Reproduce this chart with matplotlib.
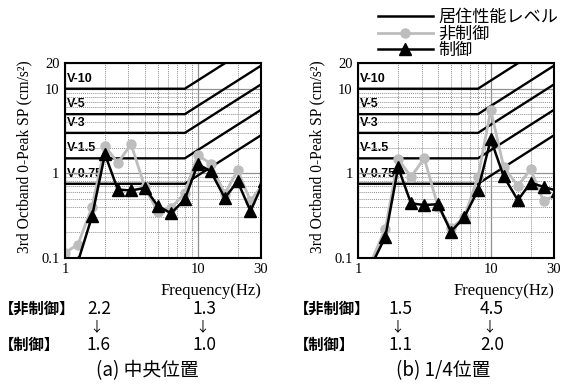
import matplotlib
matplotlib.use("Agg")
import matplotlib.pyplot as plt
from matplotlib.lines import Line2D
from matplotlib.ticker import FixedLocator, NullFormatter

# 1/3 octave band centre frequencies (Hz)
freq = [1, 1.25, 1.6, 2, 2.5, 3.15, 4, 5, 6.3, 8, 10, 12.5, 16, 20, 25, 31.5]

# (a) centre position
center_uncontrolled = [0.115, 0.143, 0.40, 2.1, 1.33, 2.2, 0.68, 0.35, 0.39, 0.58,
                       1.64, 1.30, 0.57, 1.08, 0.47, 0.77]
center_controlled = [0.05, 0.089, 0.31, 1.68, 0.64, 0.625, 0.67, 0.41, 0.335, 0.49,
                     1.28, 1.06, 0.51, 0.80, 0.355, 0.81]

# (b) quarter position
quarter_uncontrolled = [0.07, 0.09, 0.22, 1.47, 0.91, 1.50, 0.40, 0.223, 0.30, 0.90,
                        5.6, 1.19, 0.71, 1.11, 0.47, 0.56]
quarter_controlled = [0.04, 0.08, 0.177, 1.17, 0.44, 0.42, 0.43, 0.203, 0.30, 0.63,
                      2.52, 0.92, 0.48, 0.77, 0.69, 0.62]

# habitability criteria curves: flat up to the knee, then proportional to f
criteria_names = ["V-10", "V-5", "V-3", "V-1.5", "V-0.75"]
criteria_levels = [10, 5, 3, 1.5, 0.75]
criteria_freq = [1, 8, 40]
criteria_shape = [1, 1, 5]

summary_a = {"非制御": ["2.2", "1.3"], "制御": ["1.6", "1.0"]}
summary_b = {"非制御": ["1.5", "4.5"], "制御": ["1.1", "2.0"]}
captions = ["(a) 中央位置", "(b) 1/4位置"]
legend_labels = ["居住性能レベル", "非制御", "制御"]

GRAY = "#bdbdbd"
SERIF = "Liberation Serif"
CJK = ["Noto Sans CJK JP", "DejaVu Sans"]

W, H = 566, 385


def px(x, y):
    return x / W, 1 - y / H


fig = plt.figure(figsize=(W / 100, H / 100), dpi=100)

ax_a = fig.add_axes([65 / W, 1 - 257.7 / H, 196 / W, 194.4 / H])
ax_b = fig.add_axes([358.3 / W, 1 - 257.7 / H, 195.7 / W, 194.4 / H])

for ax, unc, ctl in [(ax_a, center_uncontrolled, center_controlled),
                     (ax_b, quarter_uncontrolled, quarter_controlled)]:
    ax.set_xscale("log")
    ax.set_yscale("log")
    ax.set_xlim(1, 30)
    ax.set_ylim(0.1, 20)

    # grid
    ax.xaxis.set_major_locator(FixedLocator([1, 10, 30]))
    ax.xaxis.set_minor_locator(FixedLocator([2, 3, 4, 5, 6, 7, 8, 9, 20]))
    ax.yaxis.set_major_locator(FixedLocator([0.1, 1, 10, 20]))
    ax.yaxis.set_minor_locator(FixedLocator(
        [0.2, 0.3, 0.4, 0.5, 0.6, 0.7, 0.8, 0.9, 2, 3, 4, 5, 6, 7, 8, 9]))
    ax.xaxis.set_minor_formatter(NullFormatter())
    ax.yaxis.set_minor_formatter(NullFormatter())
    ax.set_xticklabels(["1", "10", "30"])
    ax.set_yticklabels(["0.1", "1", "10", "20"])
    ax.grid(which="major", color="#909090", lw=0.9, ls="-", zorder=0)
    ax.grid(which="minor", color="#909090", lw=0.7, ls=(0, (1, 1)), zorder=0)
    ax.tick_params(which="both", length=0, labelsize=10.5, pad=4)
    for lab in ax.get_xticklabels() + ax.get_yticklabels():
        lab.set_fontfamily(SERIF)
    for s in ax.spines.values():
        s.set_linewidth(1.5)
        s.set_zorder(5)

    # criteria lines
    for name, lev in zip(criteria_names, criteria_levels):
        ax.plot(criteria_freq, [lev * c for c in criteria_shape], color="black",
                lw=1.7, zorder=2)
        ax.annotate(name, (1.03, lev), xytext=(0, 3), textcoords="offset points",
                    ha="left", va="bottom", fontsize=9, fontweight="bold",
                    family="Liberation Sans", zorder=1)

    ax.plot(freq, unc, color=GRAY, lw=2.0, marker="o", ms=6.5, mec=GRAY,
            mfc=GRAY, zorder=3)
    ax.plot(freq, ctl, color="black", lw=1.8, marker="^", ms=8, zorder=4)

    ax.set_ylabel("3rd Octband 0-Peak SP (cm/s²)", family=SERIF, fontsize=11.2)
    ax.yaxis.set_label_coords(-0.168, 0.52)
    ax.text(1.0, -0.17, "Frequency(Hz)", transform=ax.transAxes, ha="right",
            va="center", family=SERIF, fontsize=12)

# legend (figure level, top right)
handles = [
    Line2D([], [], color="black", lw=1.8),
    Line2D([], [], color=GRAY, lw=2.0, marker="o", ms=6.5, mec=GRAY),
    Line2D([], [], color="black", lw=1.8, marker="^", ms=8),
]
fig.legend(handles, legend_labels, loc="upper left", bbox_to_anchor=px(378, 8),
           frameon=False, handlelength=3.2, handletextpad=0.35, labelspacing=-0.08,
           borderpad=0, borderaxespad=0, numpoints=1,
           prop={"family": CJK, "size": 12.3})

# summary of peak values below the charts
for summary, x0, xs, cap, xc in [(summary_a, -1, [99, 205], captions[0], 147),
                                 (summary_b, 294, [400, 492], captions[1], 443)]:
    for (key, vals), y in zip(summary.items(), [309, 345]):
        fig.text(*px(x0, y), "【" + key + "】", ha="left", va="center",
                 family=CJK, fontsize=11, fontweight="bold")
        for v, x in zip(vals, xs):
            fig.text(*px(x, y), v, ha="center", va="center", family=CJK,
                     fontsize=12.5)
    for x in xs:
        fig.text(*px(x - 3, 327), "↓", ha="center", va="center", family=CJK,
                 fontsize=10)
    fig.text(*px(xc, 371), cap, ha="center", va="center", family=CJK,
             fontsize=13.5)

fig.savefig("out.png", dpi=100)
